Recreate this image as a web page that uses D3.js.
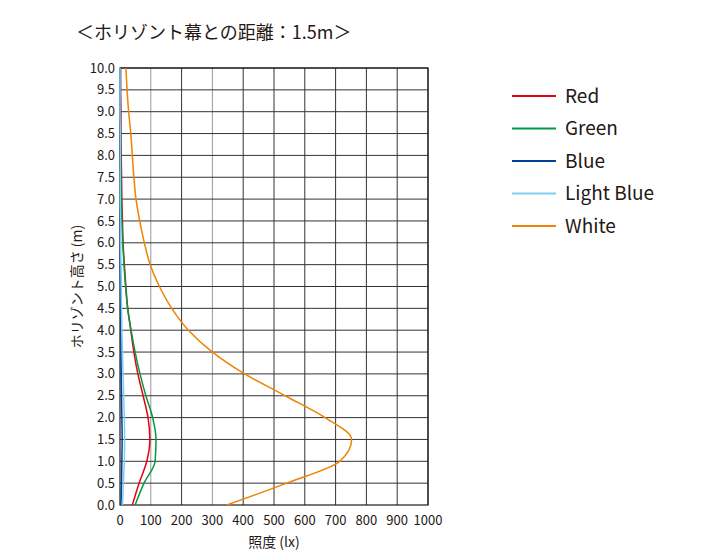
<!DOCTYPE html>
<html>
<head>
<meta charset="utf-8">
<script src="https://cdn.jsdelivr.net/npm/d3@7"></script>
<style>
  body { margin: 0; background: #fff; }
  text { font-family: "Noto Sans CJK JP", "Noto Sans", sans-serif; fill: #231815; }
</style>
</head>
<body>
<div id="chart"></div>
<script>
// heights (m) and illuminance (lx) per color
const heights = [0, 0.5, 1.0, 1.5, 2.0, 2.5, 3.0, 3.5, 4.0, 4.5, 5.0, 5.5, 6.0, 6.5, 7.0, 7.5, 8.0, 8.5, 9.0, 9.5, 10.0];
const red = [40, 62, 87, 97, 91, 75, 58, 45, 35, 25, 19, 14, 10, 8, 6, 5, 4, 3, 3, 2, 2];
const green = [49, 78, 114, 117, 106, 84, 65, 49, 36, 25, 18, 13, 9, 6, 4, 3, 2, 2, 1, 1, 1];
const blue = [3, 5, 6, 7, 6, 5, 4, 3, 3, 2, 2, 1, 1, 1, 1, 1, 0, 0, 0, 0, 0];
const lightBlue = [8, 11, 14, 15, 14, 12, 10, 8, 6, 5, 4, 3, 2, 2, 1, 1, 1, 1, 0, 0, 0];
const white = [347, 541, 714, 752, 666, 536, 405, 300, 222, 168, 128, 98, 79, 64, 52, 45, 40, 35, 28, 23, 19];

const seriesNames = ["Red", "Green", "Blue", "Light Blue", "White"];
const seriesColors = ["#e60012", "#009944", "#004098", "#7ecef4", "#f08300"];
const seriesValues = [red, green, blue, lightBlue, white];

const xTicks = d3.range(0, 1001, 100);
const yTicks = d3.range(0, 10.01, 0.5);

const svg = d3.select("#chart").append("svg").attr("width", 715).attr("height", 560);

const x = d3.scaleLinear().domain([0, 1000]).range([120, 428]);
const y = d3.scaleLinear().domain([0, 10]).range([505, 68]);

// title
svg.append("text").attr("x", 76).attr("y", 39).attr("font-size", 18)
  .text("＜ホリゾント幕との距離：1.5m＞");

// grid
svg.append("g").selectAll("line").data(xTicks.slice(1)).join("line")
  .attr("x1", d => x(d)).attr("x2", d => x(d)).attr("y1", y(0)).attr("y2", y(10))
  .attr("stroke", d => d % 200 === 100 && d < 400 ? "#999" : "#333").attr("stroke-width", 1);
svg.append("g").selectAll("line").data(yTicks.slice(1)).join("line")
  .attr("x1", x(0)).attr("x2", x(1000)).attr("y1", d => y(d)).attr("y2", d => y(d))
  .attr("stroke", "#333").attr("stroke-width", 1);
svg.append("rect").attr("x", x(0)).attr("y", y(10)).attr("width", x(1000) - x(0)).attr("height", y(0) - y(10))
  .attr("fill", "none").attr("stroke", "#231815").attr("stroke-width", 1.2);

// tick labels
svg.append("g").selectAll("text").data(xTicks).join("text")
  .attr("x", d => x(d)).attr("y", 525).attr("text-anchor", "middle").attr("font-size", 13)
  .text(d => d);
svg.append("g").selectAll("text").data(yTicks).join("text")
  .attr("x", 115).attr("y", d => y(d)).attr("dy", "0.35em").attr("text-anchor", "end").attr("font-size", 13)
  .text(d => d.toFixed(1));

// axis titles
svg.append("text").attr("x", x(500)).attr("y", 547).attr("text-anchor", "middle").attr("font-size", 14)
  .text("照度 (lx)");
svg.append("text").attr("transform", "translate(82," + y(5) + ") rotate(-90)")
  .attr("text-anchor", "middle").attr("font-size", 14).text("ホリゾント高さ (m)");

// curves
const line = d3.line().x(d => x(d[0])).y(d => y(d[1])).curve(d3.curveMonotoneY);
seriesValues.forEach((vals, i) => {
  svg.append("path")
    .datum(vals.map((v, j) => [v, heights[j]]))
    .attr("d", line).attr("fill", "none")
    .attr("stroke", seriesColors[i]).attr("stroke-width", 1.5);
});

// legend
seriesNames.forEach((name, i) => {
  const ly = 96 + i * 32.5;
  svg.append("line").attr("x1", 512).attr("x2", 556).attr("y1", ly).attr("y2", ly)
    .attr("stroke", seriesColors[i]).attr("stroke-width", 2);
  svg.append("text").attr("x", 565).attr("y", ly).attr("dy", "0.35em").attr("font-size", 19).text(name);
});
</script>
</body>
</html>
